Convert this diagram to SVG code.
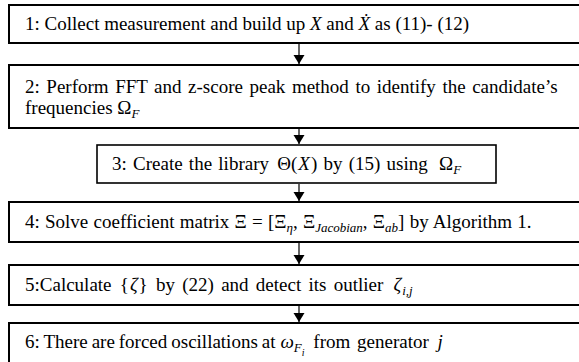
<svg xmlns="http://www.w3.org/2000/svg" width="579" height="362" viewBox="0 0 579 362">
<style>
.box{fill:#fff;stroke:#000;stroke-width:2}
.t{font-family:"Liberation Serif","Times New Roman",serif;font-size:19px;fill:#000}
.m{font-style:italic}
.s{font-size:13px;font-style:italic}
.ss{font-size:10px;font-style:italic}
.c{stroke:#000;stroke-width:1.2;fill:none}
</style>
<defs>
<marker id="arr" markerUnits="userSpaceOnUse" markerWidth="10" markerHeight="12" refX="9" refY="5.5" orient="auto">
<path d="M0,0 L9,5.5 L0,11 z" fill="#000"/>
</marker>
</defs>
<rect width="579" height="362" fill="#fff"/>
<g id="connectors">
<line class="c" x1="299" y1="44" x2="299" y2="64" marker-end="url(#arr)"/>
<line class="c" x1="299" y1="129" x2="299" y2="144" marker-end="url(#arr)"/>
<line class="c" x1="299" y1="184" x2="299" y2="201" marker-end="url(#arr)"/>
<line class="c" x1="299" y1="243" x2="299" y2="264" marker-end="url(#arr)"/>
<line class="c" x1="299" y1="306" x2="299" y2="322" marker-end="url(#arr)"/>
</g>
<g id="n1">
<rect class="box" x="9" y="5" width="580" height="38"/>
<text class="t" x="25" y="30">1: Collect measurement and build up <tspan class="m">X</tspan> and <tspan class="m">Ẋ</tspan> as (11)- (12)</text>
</g>
<g id="n2">
<rect class="box" x="9" y="65" width="580" height="63"/>
<text class="t" x="25" y="93" word-spacing="1.8">2: Perform FFT and z-score peak method to identify the candidate’s</text>
<text class="t" x="25" y="114">frequencies Ω<tspan class="s" dy="4">F</tspan></text>
</g>
<g id="n3">
<rect class="box" x="97" y="145" width="399" height="38" style="stroke-width:1.6"/>
<text class="t" x="112" y="170" word-spacing="1.5">3: Create the library <tspan dx="2">Θ(</tspan><tspan class="m" dx="1">X</tspan><tspan dx="1">)</tspan> by (15) using <tspan dx="5">Ω</tspan><tspan class="s" dy="4">F</tspan></text>
</g>
<g id="n4">
<rect class="box" x="9" y="202" width="580" height="40"/>
<text class="t" x="25" y="228" word-spacing="0.5">4: Solve coefficient matrix Ξ = [Ξ<tspan class="s" dy="4">η</tspan><tspan dy="-4">, Ξ</tspan><tspan class="s" dy="4">Jacobian</tspan><tspan dy="-4">, Ξ</tspan><tspan class="s" dy="4">ab</tspan><tspan dy="-4">] by Algorithm 1.</tspan></text>
</g>
<g id="n5">
<rect class="box" x="9" y="265" width="580" height="40"/>
<text class="t" x="25" y="291" word-spacing="2.5">5:Calculate <tspan dx="1">{</tspan><tspan class="m" dx="1">ζ</tspan><tspan dx="1">}</tspan><tspan dx="1"> by (22) and detect its outlier </tspan><tspan class="m" dx="3">ζ</tspan><tspan class="s" dx="1" dy="4">i,j</tspan></text>
</g>
<g id="n6">
<rect class="box" x="9" y="323" width="580" height="50"/>
<text class="t" x="25" y="348" word-spacing="-0.8">6: There are forced oscillations at <tspan class="m" dx="1">ω</tspan><tspan class="s" dy="4">F</tspan><tspan class="ss" dy="4">i</tspan><tspan dy="-8" dx="2" word-spacing="2"> from generator </tspan><tspan class="m" dx="2">j</tspan></text>
</g>
</svg>
